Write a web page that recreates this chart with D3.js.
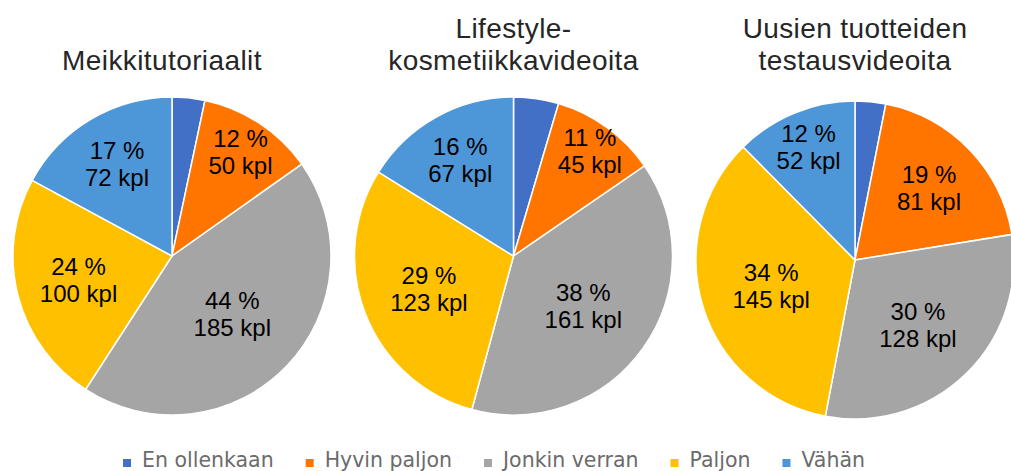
<!DOCTYPE html>
<html>
<head>
<meta charset="utf-8">
<title>Meikkivideot</title>
<style>
  body { margin: 0; background: #fff; }
  .title { font-family: Arial, "Liberation Sans", sans-serif; font-size: 28px; letter-spacing: 0.4px; fill: #262626; }
  .slice-label { font-family: Arial, "Liberation Sans", sans-serif; font-size: 24px; fill: #000; }
  .legend text { font-family: "DejaVu Sans", sans-serif; font-size: 20.5px; fill: #6b6b6b; }
</style>
<script src="https://d3js.org/d3.v7.min.js"></script>
</head>
<body>
<svg width="1011" height="471"></svg>
<script>
// categories and colours (Excel style)
var categories = ["En ollenkaan", "Hyvin paljon", "Jonkin verran", "Paljon", "Vähän"];
var colors = ["#4270c6", "#ff7500", "#a5a5a5", "#ffc000", "#4d97d8"];

var titles = [["Meikkitutoriaalit"], ["Lifestyle-", "kosmetiikkavideoita"], ["Uusien tuotteiden", "testausvideoita"]];

// counts (kpl) and printed percentages, null = no label shown
var meikki = [14, 50, 185, 100, 72];
var meikkiPct = [null, 12, 44, 24, 17];
var lifestyle = [19, 45, 161, 123, 67];
var lifestylePct = [null, 11, 38, 29, 16];
var uusien = [13, 81, 128, 145, 52];
var uusienPct = [null, 19, 30, 34, 12];

var series = [
  {title: titles[0], values: meikki, pct: meikkiPct},
  {title: titles[1], values: lifestyle, pct: lifestylePct},
  {title: titles[2], values: uusien, pct: uusienPct}
];

var svg = d3.select("svg"),
    radius = 159;

// each pie sits in its own little chart box
var x = d3.scalePoint().domain(d3.range(series.length)).range([172, 855]);
var pieY = [256, 256, 260],
    titleShift = [-10, 0, 0];
var color = d3.scaleOrdinal().domain(categories).range(colors);

var pie = d3.pie().sort(null).value(function(d) { return d.value; });
var arc = d3.arc().innerRadius(0).outerRadius(radius);

// narrow slices push the label further out (Excel "best fit"-ish)
function labelRadius(d) {
  var p = (d.endAngle - d.startAngle) / (2 * Math.PI);
  return radius * Math.min(0.82, 0.43 + 0.042 / p);
}

series.forEach(function(s, i) {
  var g = svg.append("g")
      .attr("transform", "translate(" + x(i) + "," + pieY[i] + ")");

  var rows = categories.map(function(c, j) {
    return {cat: c, value: s.values[j], pct: s.pct[j]};
  });
  var arcs = pie(rows);

  g.selectAll("path")
    .data(arcs)
    .enter().append("path")
      .attr("d", arc)
      .attr("fill", function(d) { return color(d.data.cat); })
      .attr("stroke", "#fff")
      .attr("stroke-width", 1.5);

  var lab = g.selectAll(".slice-label")
    .data(arcs.filter(function(d) { return d.data.pct !== null; }))
    .enter().append("text")
      .attr("class", "slice-label")
      .attr("text-anchor", "middle")
      .attr("transform", function(d) {
        var a = (d.startAngle + d.endAngle) / 2, r = labelRadius(d);
        return "translate(" + (Math.sin(a) * r) + "," + (-Math.cos(a) * r) + ")";
      });
  lab.append("tspan").attr("x", 0).attr("y", -5).text(function(d) { return d.data.pct + " %"; });
  lab.append("tspan").attr("x", 0).attr("y", 22).text(function(d) { return d.data.value + " kpl"; });

  var t = svg.append("text")
      .attr("class", "title")
      .attr("text-anchor", "middle");
  s.title.forEach(function(line, k) {
    t.append("tspan")
      .attr("x", x(i) + titleShift[i])
      .attr("y", 70 - (s.title.length - 1 - k) * 32)
      .text(line);
  });
});

// legend, laid out from measured text widths and centred
var legend = svg.append("g").attr("class", "legend");
var items = legend.selectAll("g")
  .data(categories)
  .enter().append("g");
items.append("rect")
    .attr("width", 8).attr("height", 8)
    .attr("y", 459)
    .attr("fill", function(d) { return color(d); });
items.append("text")
    .attr("x", 19)
    .attr("y", 467)
    .text(function(d) { return d; });

var pos = 0;
items.each(function() {
  var w = d3.select(this).select("text").node().getComputedTextLength();
  d3.select(this).attr("transform", "translate(" + pos + ",0)");
  pos += 19 + w + 32;
});
var total = pos - 32;
legend.attr("transform", "translate(" + (494 - total / 2) + ",0)");
</script>
</body>
</html>
